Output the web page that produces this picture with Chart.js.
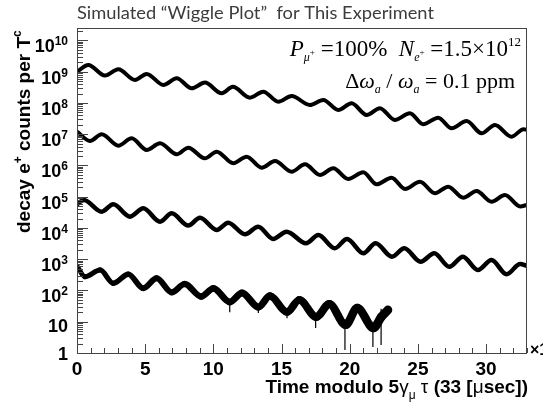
<!DOCTYPE html>
<html>
<head>
<meta charset="utf-8">
<title>Simulated Wiggle Plot</title>
<script src="https://cdn.jsdelivr.net/npm/chart.js@4.4.1/dist/chart.umd.min.js"></script>
<style>
  html, body { margin: 0; padding: 0; background: #fff; }
  #wrap { width: 543px; height: 402px; }
</style>
</head>
<body>
<div id="wrap"><canvas id="wiggle" width="543" height="402"></canvas></div>
<script>
// Data: times (usec, modulo 33) of the peaks / troughs and counts there
const row1T = [0, 0.83, 2.05, 3.03, 4.25, 5.11, 6.33, 7.31, 8.41, 9.38, 10.61, 11.43, 12.68, 13.66, 14.76, 15.74,
  17.08, 18.06, 19.16, 20.14, 21.24, 22.21, 23.31, 24.41, 25.39, 26.49, 27.47, 28.57, 29.67, 30.65, 31.87, 32.75, 33];
const row1V = [1.0e9, 1.64e9, 7.5e8, 1.2e9, 5.45e8, 8.5e8, 3.77e8, 6.2e8, 2.95e8, 4.47e8, 2.04e8, 3.3e8, 1.48e8, 2.3e8, 1.1e8, 1.67e8,
  8.6e7, 1.25e8, 5.97e7, 9.8e7, 4.13e7, 6.8e7, 2.86e7, 4.68e7, 2.08e7, 3.39e7, 1.55e7, 2.65e7, 1.07e7, 1.98e7, 8.35e6, 1.45e7, 1.38e7];

const row2T = [0, 0.95, 1.81, 3.03, 4.01, 5.11, 6.09, 7.31, 8.16, 9.38, 10.24, 11.46, 12.44, 13.54, 14.52, 15.74, 16.72,
  17.82, 18.79, 19.89, 20.99, 21.97, 23.07, 24.05, 25.15, 26.25, 27.22, 28.32, 29.30, 30.40, 31.38, 32.5, 33];
const row2V = [1.21e7, 6.08e6, 9.96e6, 4.3e6, 7.42e6, 3.13e6, 5.13e6, 2.28e6, 3.72e6, 1.7e6, 2.77e6, 1.18e6, 1.91e6, 8.5e5, 1.39e6, 6.34e5, 1.09e6,
  4.97e5, 8.13e5, 3.7e5, 6.06e5, 2.5e5, 4.07e5, 1.77e5, 3.03e5, 1.29e5, 2.1e5, 9.3e4, 1.53e5, 6.95e4, 1.14e5, 4.9e4, 5.5e4];

const row3T = [0, 0.51, 1.81, 2.66, 3.89, 4.86, 6.09, 6.94, 8.16, 9.02, 10.24, 11.09, 12.32, 13.29, 14.39, 15.37, 16.8,
  17.7, 18.9, 19.8, 21.0, 21.9, 23.1, 24.0, 25.2, 26.2, 27.3, 28.3, 29.4, 30.4, 31.5, 32.5, 33];
const row3V = [5.7e4, 7.87e4, 3.32e4, 5.73e4, 2.3e4, 4.27e4, 1.59e4, 2.95e4, 1.19e4, 2.14e4, 8630, 1.48e4, 6280, 1.1e4, 4450, 7620, 3240,
  5970, 2240, 4450, 1550, 3240, 1210, 2240, 835, 1550, 578, 1210, 453, 946, 330, 705, 610];

const row4T = [0, 0.59, 1.69, 2.66, 3.76, 4.86, 5.84, 6.94, 7.9, 9.1, 10.0, 11.2, 12.1, 13.3, 14.15, 15.4, 16.3,
  17.55, 18.5, 19.7, 20.55, 21.75, 22.3, 22.8];
const row4V = [600, 277, 453, 170, 330, 118, 246, 87.5, 161, 64.3, 116, 42.9, 83, 29.6, 66.7, 20.5, 49.7,
  14.2, 37, 7.9, 27.5, 6.3, 14, 23.8];

// error bars on the last (low statistics) row
const errT = [11.2, 13.3, 15.4, 17.5, 19.65, 21.7, 22.3];
const errLo = [20, 19, 13, 6.3, 1.25, 1.55, 1.8];
const errHi = [45, 32, 24, 16, 12, 10, 26];

const xTickLabels = [0, 5, 10, 15, 20, 25, 30];
const yDecades = [0, 1, 2, 3, 4, 5, 6, 7, 8, 9, 10];

const SANS = '"Liberation Sans", Arial, sans-serif';
const SERIF = '"Liberation Serif", "Times New Roman", serif';

function toPoints(ts, vs) {
    return ts.map((t, i) => ({ x: t, y: vs[i] }));
}

function errorPoints() {
    const out = [];
    errT.forEach((t, i) => {
        out.push({ x: t, y: errLo[i] }, { x: t, y: errHi[i] }, { x: t, y: null });
    });
    return out;
}

// draws a list of text runs (for sub/superscripts), left aligned at x, baseline y
function runsWidth(ctx, runs) {
    let w = 0;
    runs.forEach(r => { ctx.font = r.f; w += ctx.measureText(r.t).width; });
    return w;
}
function drawRuns(ctx, runs, x, y) {
    let cx = x;
    runs.forEach(r => {
        ctx.font = r.f;
        ctx.fillText(r.t, cx, y + (r.dy || 0));
        cx += ctx.measureText(r.t).width;
    });
}

const rootFrame = {
    id: 'rootFrame',
    afterDatasetsDraw(chart) {
        const ctx = chart.ctx;
        const a = chart.chartArea;
        const xs = chart.scales.x, ys = chart.scales.y;
        ctx.save();
        ctx.strokeStyle = '#444';
        ctx.lineWidth = 1;
        ctx.strokeRect(a.left + 0.5, a.top + 0.5, a.right - a.left - 1, a.bottom - a.top);

        // ticks on the log axis, pointing inwards
        ctx.beginPath();
        for (let e = 0; e <= 10; e++) {
            for (let s = 1; s <= 9; s++) {
                const v = s * Math.pow(10, e);
                if (v > ys.max) break;
                const py = Math.round(ys.getPixelForValue(v)) + 0.5;
                ctx.moveTo(a.left, py);
                ctx.lineTo(a.left + (s === 1 ? 11 : 6), py);
            }
        }
        // ticks on the time axis
        for (let t = 0; t <= 33; t++) {
            const px = Math.round(xs.getPixelForValue(t)) + 0.5;
            ctx.moveTo(px, a.bottom);
            ctx.lineTo(px, a.bottom - (t % 5 === 0 ? 9 : 5));
        }
        ctx.stroke();
        ctx.restore();
    },
    afterDraw(chart) {
        const ctx = chart.ctx;
        const ys = chart.scales.y;
        ctx.save();
        ctx.fillStyle = '#000';
        ctx.textBaseline = 'alphabetic';

        // y tick labels 1, 10, 10^2 ...
        yDecades.forEach(n => {
            const py = ys.getPixelForValue(Math.pow(10, n));
            let runs;
            if (n === 0) runs = [{ t: '1', f: 'bold 18px ' + SANS }];
            else if (n === 1) runs = [{ t: '10', f: 'bold 18px ' + SANS }];
            else runs = [{ t: '10', f: 'bold 18px ' + SANS }, { t: String(n), f: 'bold 12px ' + SANS, dy: -7 }];
            const w = runsWidth(ctx, runs);
            const off = n === 0 ? 6.5 : (n === 1 ? 10.5 : 12);
            drawRuns(ctx, runs, 68 - w, py + off);
        });

        // y axis title, rotated
        ctx.save();
        ctx.translate(30, 233);
        ctx.rotate(-Math.PI / 2);
        drawRuns(ctx, [
            { t: 'decay e', f: 'bold 19px ' + SANS },
            { t: '+', f: 'bold 12px ' + SANS, dy: -8 },
            { t: ' counts per T', f: 'bold 19px ' + SANS },
            { t: 'c', f: 'bold 12px ' + SANS, dy: -9 }
        ], 0, 0);
        ctx.restore();

        // x axis title, right aligned
        const xt = [
            { t: 'Time modulo 5', f: 'bold 19px ' + SANS },
            { t: 'γ', f: '19px ' + SANS },
            { t: 'μ', f: '12px ' + SANS, dy: 6 },
            { t: ' τ', f: '19px ' + SANS },
            { t: ' (33 [', f: 'bold 19px ' + SANS },
            { t: 'μ', f: '19px ' + SANS },
            { t: 'sec])', f: 'bold 19px ' + SANS }
        ];
        drawRuns(ctx, xt, 528 - runsWidth(ctx, xt), 393);

        // exponent marker cut at the right edge
        ctx.font = 'bold 16px ' + SANS;
        ctx.fillText('×10', 530, 355);

        // physics annotation
        const l1 = [
            { t: 'P', f: 'italic 23px ' + SERIF },
            { t: 'μ', f: 'italic 12px ' + SERIF, dy: 5 },
            { t: '+', f: '9px ' + SERIF, dy: -1 },
            { t: ' =100%  ', f: '23px ' + SERIF },
            { t: 'N', f: 'italic 23px ' + SERIF },
            { t: 'e', f: 'italic 12px ' + SERIF, dy: 5 },
            { t: '+', f: '9px ' + SERIF, dy: -1 },
            { t: ' =1.5×10', f: '23px ' + SERIF },
            { t: '12', f: '13px ' + SERIF, dy: -10 }
        ];
        drawRuns(ctx, l1, 521 - runsWidth(ctx, l1), 56);
        const l2 = [
            { t: 'Δ', f: '22px ' + SERIF },
            { t: 'ω', f: 'italic 22px ' + SERIF },
            { t: 'a', f: 'italic 12px ' + SERIF, dy: 5 },
            { t: ' / ', f: '22px ' + SERIF },
            { t: 'ω', f: 'italic 22px ' + SERIF },
            { t: 'a', f: 'italic 12px ' + SERIF, dy: 5 },
            { t: ' = 0.1 ppm', f: '22px ' + SERIF }
        ];
        drawRuns(ctx, l2, 515 - runsWidth(ctx, l2), 88);

        // slide title, squeezed a little to mimic the narrow original face
        const title = 'Simulated “Wiggle Plot”  for This Experiment';
        ctx.font = '18px Lato, ' + SANS;
        const sx = 357 / ctx.measureText(title).width;
        ctx.fillStyle = '#3c3c3c';
        ctx.translate(77, 19);
        ctx.scale(sx, 1);
        ctx.fillText(title, 0, 0);
        ctx.restore();
    }
};

const wiggleStyle = {
    borderColor: '#000',
    borderWidth: 4,
    pointRadius: 0,
    fill: false,
    cubicInterpolationMode: 'monotone',
    borderCapStyle: 'round',
    borderJoinStyle: 'round'
};

const ctx = document.getElementById('wiggle').getContext('2d');
const wiggleChart = new Chart(ctx, {
    type: 'line',
    data: {
        datasets: [
            { ...wiggleStyle, label: 'row 1', data: toPoints(row1T, row1V) },
            { ...wiggleStyle, label: 'row 2', data: toPoints(row2T, row2V) },
            { ...wiggleStyle, label: 'row 3', data: toPoints(row3T, row3V), borderWidth: 4.5 },
            {
                ...wiggleStyle, label: 'row 4', data: toPoints(row4T, row4V), borderWidth: 6,
                segment: { borderWidth: c => 5 + 0.17 * c.p0.parsed.x }
            },
            {
                label: 'errors', data: errorPoints(), borderColor: '#000', borderWidth: 1.2,
                pointRadius: 0, tension: 0, spanGaps: false, fill: false
            }
        ]
    },
    options: {
        responsive: false,
        animation: false,
        layout: { padding: { left: 77, right: 16, top: 28, bottom: 0 } },
        plugins: { legend: { display: false }, tooltip: { enabled: false }, title: { display: false } },
        scales: {
            x: {
                type: 'linear',
                min: 0,
                max: 33,
                grid: { display: false, drawTicks: false },
                border: { display: false },
                ticks: {
                    stepSize: 5,
                    autoSkip: false,
                    maxRotation: 0,
                    padding: 5,
                    color: '#000',
                    font: { family: SANS, size: 19, weight: 'bold' },
                    callback: v => xTickLabels.includes(v) ? String(v) : ''
                },
                afterFit: s => { s.height = 49; }
            },
            y: {
                type: 'logarithmic',
                display: false,
                min: 1,
                max: 2.5e10
            }
        }
    },
    plugins: [rootFrame]
});
</script>
</body>
</html>
